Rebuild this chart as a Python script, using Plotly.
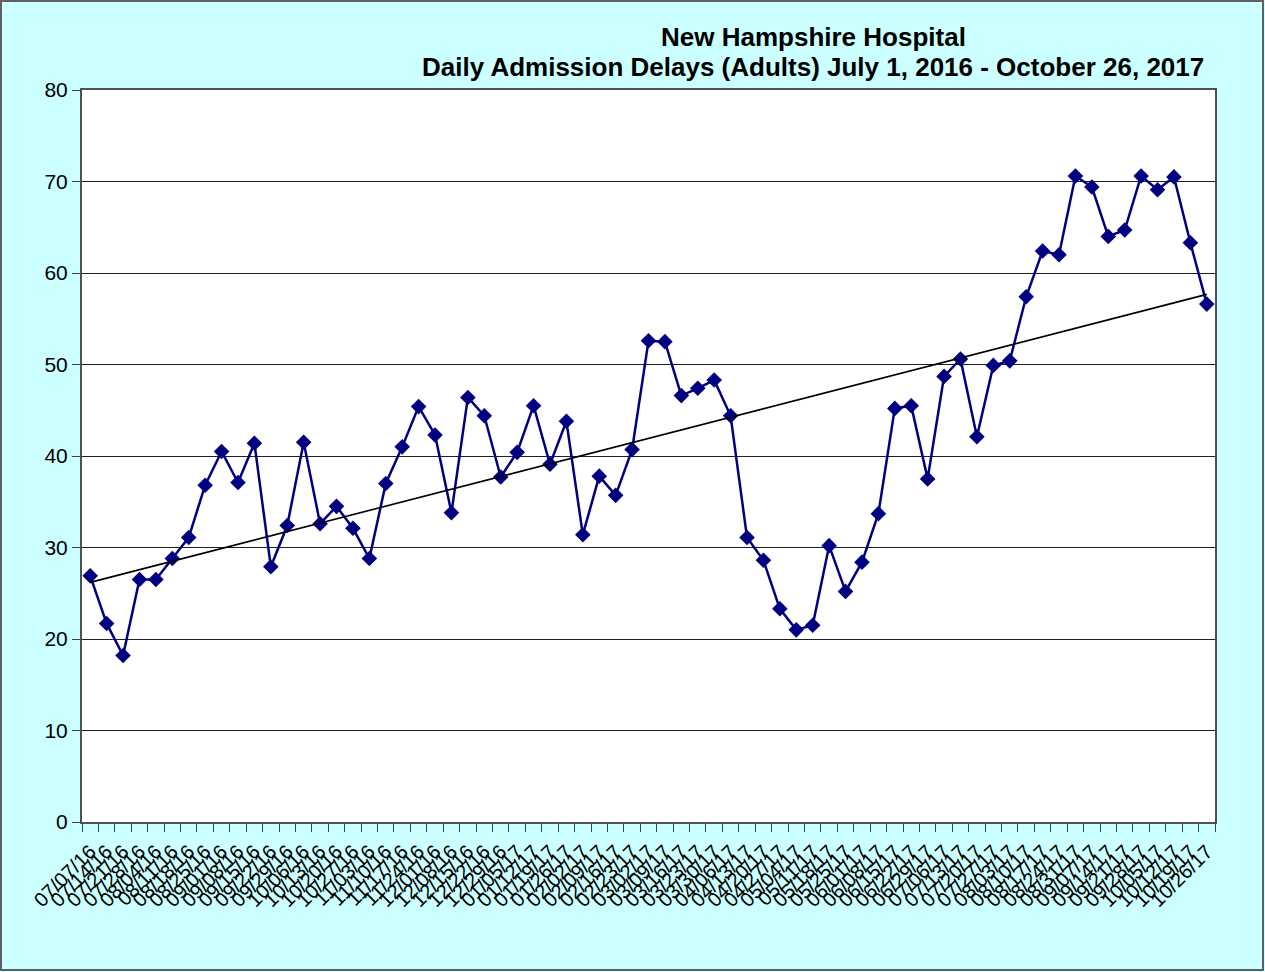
import numpy as np
import plotly.graph_objects as go

dates = ["07/07/16","07/14/16","07/21/16","07/28/16","08/04/16","08/11/16","08/18/16","08/25/16",
         "09/01/16","09/08/16","09/15/16","09/22/16","09/29/16","10/06/16","10/13/16","10/20/16",
         "10/27/16","11/03/16","11/10/16","11/17/16","11/24/16","12/01/16","12/08/16","12/15/16",
         "12/22/16","12/29/16","01/05/17","01/12/17","01/19/17","01/26/17","02/02/17","02/09/17",
         "02/16/17","02/23/17","03/02/17","03/09/17","03/16/17","03/23/17","03/30/17","04/06/17",
         "04/13/17","04/20/17","04/27/17","05/04/17","05/11/17","05/18/17","05/25/17","06/01/17",
         "06/08/17","06/15/17","06/22/17","06/29/17","07/06/17","07/13/17","07/20/17","07/27/17",
         "08/03/17","08/10/17","08/17/17","08/24/17","08/31/17","09/07/17","09/14/17","09/21/17",
         "09/28/17","10/05/17","10/12/17","10/19/17","10/26/17"]

delays = [26.9, 21.7, 18.2, 26.5, 26.5, 28.8, 31.1, 36.8,
          40.5, 37.1, 41.4, 27.9, 32.4, 41.5, 32.6, 34.5,
          32.1, 28.8, 37.0, 41.0, 45.4, 42.3, 33.8, 46.4,
          44.4, 37.7, 40.4, 45.5, 39.1, 43.8, 31.4, 37.8,
          35.7, 40.7, 52.6, 52.5, 46.6, 47.4, 48.3, 44.4,
          31.1, 28.6, 23.3, 21.0, 21.5, 30.2, 25.2, 28.4,
          33.7, 45.2, 45.5, 37.5, 48.7, 50.6, 42.1, 49.9,
          50.4, 57.4, 62.4, 62.0, 70.6, 69.4, 64.0, 64.7,
          70.6, 69.1, 70.5, 63.3, 56.6]

y_ticks = [0, 10, 20, 30, 40, 50, 60, 70, 80]

title_lines = ["New Hampshire Hospital",
               "Daily Admission Delays (Adults) July 1, 2016 - October 26, 2017"]

# linear trendline (least squares over point index)
idx = np.arange(len(delays))
slope, intercept = np.polyfit(idx, delays, 1)
trend = slope * idx + intercept

W, H = 1265, 972
ML, MR, MT, MB = 82, 50, 90, 150
PW, PH = W - ML - MR, H - MT - MB

fig = go.Figure()
fig.add_trace(go.Scatter(
    x=dates, y=delays, mode="lines+markers",
    line=dict(color="#000080", width=2.5),
    marker=dict(symbol="diamond", size=12, color="#000080"),
    showlegend=False, cliponaxis=False))
fig.add_trace(go.Scatter(
    x=dates, y=trend, mode="lines",
    line=dict(color="black", width=1.6),
    showlegend=False))

FONT = "Arial, Liberation Sans, sans-serif"
annotations = []
for line, yc in zip(title_lines, [37, 67]):
    annotations.append(dict(
        text="<b>" + line + "</b>", xref="paper", yref="paper",
        x=(813 - ML) / PW, y=1 + (MT - yc) / PH, xanchor="center", yanchor="middle",
        showarrow=False, font=dict(size=26, family=FONT, color="black")))

fig.update_layout(
    width=W, height=H,
    margin=dict(l=ML, r=MR, t=MT, b=MB),
    paper_bgcolor="#CCFFFF", plot_bgcolor="white",
    font=dict(family=FONT, color="black"),
    annotations=annotations,
    xaxis=dict(type="category", tickson="boundaries", dtick=1, tickangle=-45,
               ticks="outside", ticklen=8, tickcolor="#404040", tickwidth=1,
               tickfont=dict(size=20, family=FONT, color="black"),
               ticklabelstandoff=8,
               showline=True, linecolor="#505050", linewidth=2, mirror=True,
               showgrid=False, zeroline=False,
               range=[-0.5, len(dates) - 0.5]),
    yaxis=dict(range=[0, 80], tickvals=y_ticks, ticks="outside", ticklen=8,
               tickcolor="#404040", tickfont=dict(size=21, family=FONT, color="black"),
               showline=True, linecolor="#505050", linewidth=2, mirror=True,
               showgrid=True, gridcolor="#202020", gridwidth=1, zeroline=False),
    shapes=[dict(type="rect", xref="paper", yref="paper",
                 x0=-(ML - 1) / PW, x1=1 + (MR - 2) / PW,
                 y0=-(MB - 2) / PH, y1=1 + (MT - 1) / PH,
                 line=dict(color="#606060", width=2), layer="below")],
)

fig.write_html("out.html", config={"displayModeBar": False},
               post_script="document.body.style.margin='0';document.body.style.overflow='hidden';")
